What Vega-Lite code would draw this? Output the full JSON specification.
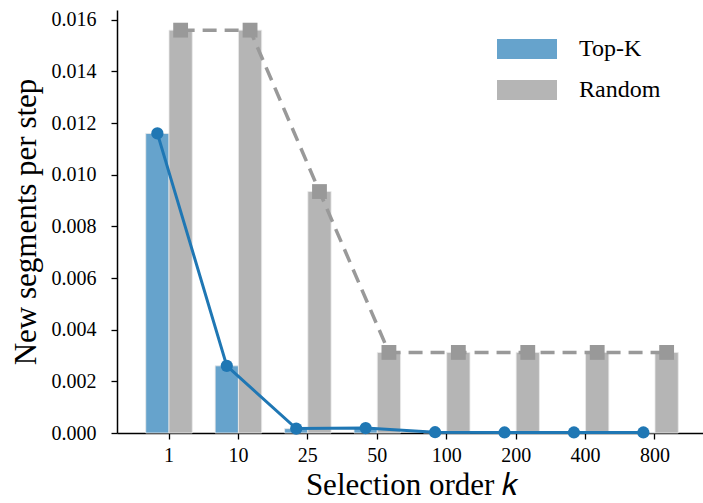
{
  "$schema": "https://vega.github.io/schema/vega-lite/v6.json",
  "autosize": {"type": "none"},
  "padding": {"left": 117, "top": 10, "right": 0, "bottom": 70},
  "width": 590,
  "height": 423,
  "background": "white",
  "config": {
    "view": {"stroke": null},
    "font": "Liberation Serif, Times New Roman, serif",
    "axis": {"labelFont": "Liberation Serif, Times New Roman, serif", "titleFont": "Liberation Serif, Times New Roman, serif", "labelColor": "#000", "titleColor": "#000", "domainColor": "#000", "tickColor": "#000", "domainWidth": 1.5, "tickWidth": 1.3, "tickSize": 6, "grid": false, "titleFontWeight": "normal"},
    "legend": {"labelFont": "Liberation Serif, Times New Roman, serif", "labelColor": "#000"}
  },
  "data": {
    "values": [
      {"k": "1", "method": "Top-K", "value": 0.0116},
      {"k": "10", "method": "Top-K", "value": 0.0026},
      {"k": "25", "method": "Top-K", "value": 0.00017},
      {"k": "50", "method": "Top-K", "value": 0.00019},
      {"k": "100", "method": "Top-K", "value": 0.00003},
      {"k": "200", "method": "Top-K", "value": 0.00002},
      {"k": "400", "method": "Top-K", "value": 0.00002},
      {"k": "800", "method": "Top-K", "value": 0.00002},
      {"k": "1", "method": "Random", "value": 0.0156},
      {"k": "10", "method": "Random", "value": 0.0156},
      {"k": "25", "method": "Random", "value": 0.00935},
      {"k": "50", "method": "Random", "value": 0.00312},
      {"k": "100", "method": "Random", "value": 0.00312},
      {"k": "200", "method": "Random", "value": 0.00312},
      {"k": "400", "method": "Random", "value": 0.00312},
      {"k": "800", "method": "Random", "value": 0.00312}
    ]
  },
  "encoding": {
    "x": {
      "field": "k", "type": "ordinal", "sort": null,
      "scale": {"paddingInner": 0.33, "paddingOuter": 0.414},
      "axis": {"labelAngle": 0, "labelFontSize": 20, "labelPadding": 6, "title": "Selection order 𝑘", "titleFontSize": 31, "titlePadding": 5}
    },
    "xOffset": {"field": "method", "type": "nominal", "sort": ["Top-K", "Random"], "scale": {"domain": ["Top-K", "Random"]}},
    "y": {
      "field": "value", "type": "quantitative",
      "scale": {"domain": [0, 0.01638], "nice": false, "zero": true},
      "axis": {"values": [0, 0.002, 0.004, 0.006, 0.008, 0.01, 0.012, 0.014, 0.016], "format": ".3f", "labelFontSize": 20, "labelPadding": 15, "title": "New segments per step", "titleFontSize": 31, "titlePadding": 9}
    }
  },
  "layer": [
    {
      "mark": {"type": "bar", "stroke": "#eaeaea", "strokeWidth": 0.8},
      "encoding": {
        "color": {
          "field": "method", "type": "nominal",
          "scale": {"domain": ["Top-K", "Random"], "range": ["#66a3cc", "#b5b5b5"]},
          "legend": {
            "title": null, "orient": "none", "legendX": 378, "legendY": 27,
            "symbolType": "M-1,-1H5V1H-1Z", "symbolSize": 400, "symbolStrokeWidth": 0,
            "labelFontSize": 24, "labelOffset": 60, "rowPadding": 17, "symbolOpacity": 1
          }
        }
      }
    },
    {
      "transform": [{"filter": "datum.method === 'Top-K'"}],
      "mark": {"type": "line", "color": "#1f77b4", "strokeWidth": 3, "point": {"filled": true, "size": 150, "color": "#1f77b4"}},
      "encoding": {}
    },
    {
      "transform": [{"filter": "datum.method === 'Random'"}],
      "mark": {"type": "line", "color": "#999999", "strokeWidth": 3.5, "strokeDash": [14, 8], "point": {"filled": true, "shape": "square", "size": 220, "color": "#999999"}},
      "encoding": {}
    }
  ]
}
